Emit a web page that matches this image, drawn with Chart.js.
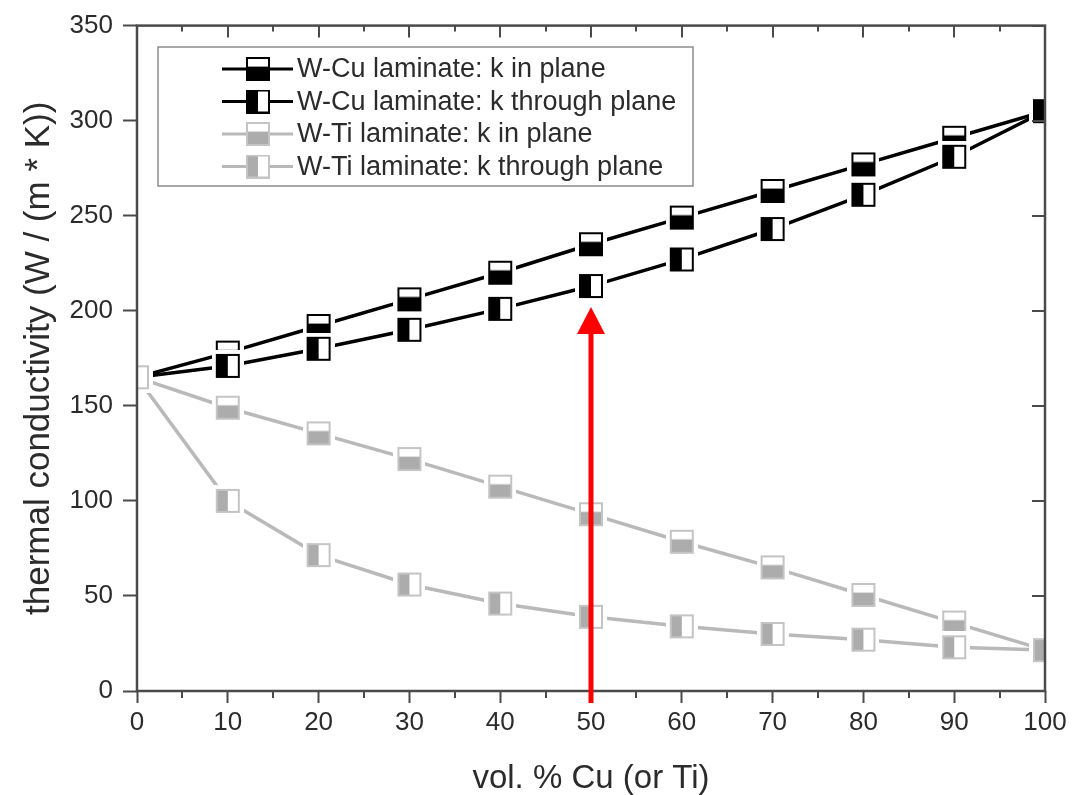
<!DOCTYPE html>
<html>
<head>
<meta charset="utf-8">
<title>Thermal conductivity of W laminates</title>
<script src="https://cdn.jsdelivr.net/npm/chart.js@4.4.0/dist/chart.umd.min.js"></script>
<style>
  html, body { margin: 0; padding: 0; background: #fff; }
  #wrap { width: 1075px; height: 795px; }
</style>
</head>
<body>
<div id="wrap"><canvas id="kchart" width="1075" height="795"></canvas></div>
<script>
// vol. % Cu (or Ti)
const volPercent = [0, 10, 20, 30, 40, 50, 60, 70, 80, 90, 100];

// thermal conductivity, W / (m * K)
const cuInPlane      = [165, 178, 192, 206, 220, 235, 249, 263, 277, 291, 305];
const cuThroughPlane = [165, 171, 180, 190, 201, 213, 227, 243, 261, 281, 305];
const tiInPlane      = [165, 149, 135.5, 122, 107.5, 93, 78.5, 65, 50.5, 36, 21.5];
const tiThroughPlane = [165, 100, 71.5, 56, 46, 39, 34, 30, 27, 23, 21.5];

const seriesLabels = [
  'W-Cu laminate: k in plane',
  'W-Cu laminate: k through plane',
  'W-Ti laminate: k in plane',
  'W-Ti laminate: k through plane'
];

const xTicks = [0, 10, 20, 30, 40, 50, 60, 70, 80, 90, 100];
const yTicks = [0, 50, 100, 150, 200, 250, 300, 350];
const arrowAt = 50;       // red marker arrow position on x
const arrowTip = 202;     // arrow head value on y

const FONT = '"Liberation Sans", Arial, sans-serif';
const BLACK = '#000000';
const GREY = '#b9b9b9';
const GREY_FILL = '#acacac';
const AXIS = '#4a4a4a';

/**
 * Build a square marker (half filled) as a small canvas.
 * pad > 0 adds a white margin so the line stops short of the marker.
 */
function makeMarker(kind, fill, edge, pad) {
  const s = 24;
  const c = document.createElement('canvas');
  c.width = c.height = s + pad * 2;
  const g = c.getContext('2d');
  if (pad) {
    g.fillStyle = '#fff';
    g.fillRect(0, 0, c.width, c.height);
  }
  g.fillStyle = '#fff';
  g.fillRect(pad, pad, s, s);
  g.fillStyle = fill;
  if (kind === 'in') {
    g.fillRect(pad, pad + s * 0.4, s, s * 0.6);
  } else {
    g.fillRect(pad, pad, s / 2, s);
  }
  g.strokeStyle = edge;
  g.lineWidth = 2;
  g.strokeRect(pad + 1, pad + 1, s - 2, s - 2);
  return c;
}

const markers = {
  cuIn: makeMarker('in', BLACK, BLACK, 4),
  cuThr: makeMarker('thr', BLACK, BLACK, 4),
  tiIn: makeMarker('in', GREY_FILL, '#c4c4c4', 4),
  tiThr: makeMarker('thr', GREY_FILL, '#c4c4c4', 4)
};
const legendMarkers = [
  makeMarker('in', BLACK, BLACK, 0),
  makeMarker('thr', BLACK, BLACK, 0),
  makeMarker('in', GREY_FILL, '#c4c4c4', 0),
  makeMarker('thr', GREY_FILL, '#c4c4c4', 0)
];

function toPoints(values) {
  return volPercent.map((x, i) => ({ x: x, y: values[i] }));
}

function series(label, values, color, marker, order) {
  return {
    label: label,
    data: toPoints(values),
    borderColor: color,
    borderWidth: 3.5,
    pointStyle: marker,
    pointRadius: 12,
    pointHoverRadius: 12,
    fill: false,
    tension: 0,
    clip: 0,
    order: order
  };
}

// frame, inner / minor ticks and the red arrow
const framePlugin = {
  id: 'frame',
  afterDatasetsDraw(chart) {
    const { ctx, chartArea: a, scales: { x, y } } = chart;
    ctx.save();
    ctx.strokeStyle = AXIS;
    ctx.lineWidth = 2.5;
    ctx.strokeRect(a.left, a.top, a.right - a.left, a.bottom - a.top);

    ctx.lineWidth = 2;
    ctx.beginPath();
    // top axis: inward major + minor
    for (let v = 0; v <= 100; v += 5) {
      const px = Math.round(x.getPixelForValue(v));
      const len = v % 10 === 0 ? 12 : 6;
      ctx.moveTo(px, a.top);
      ctx.lineTo(px, a.top + len);
      // bottom axis minor ticks (outward)
      if (v % 10 !== 0) {
        ctx.moveTo(px, a.bottom);
        ctx.lineTo(px, a.bottom + 7);
      }
    }
    // right axis: inward major
    yTicks.forEach(v => {
      const py = Math.round(y.getPixelForValue(v));
      ctx.moveTo(a.right, py);
      ctx.lineTo(a.right - 13, py);
    });
    ctx.stroke();

    // red arrow
    const ax = x.getPixelForValue(arrowAt);
    const tip = y.getPixelForValue(arrowTip);
    const base = a.bottom + 12;
    ctx.strokeStyle = '#ff0000';
    ctx.fillStyle = '#ff0000';
    ctx.lineWidth = 5;
    ctx.beginPath();
    ctx.moveTo(ax, base);
    ctx.lineTo(ax, tip + 20);
    ctx.stroke();
    ctx.beginPath();
    ctx.moveTo(ax, tip);
    ctx.lineTo(ax - 14, tip + 27);
    ctx.lineTo(ax + 14, tip + 27);
    ctx.closePath();
    ctx.fill();
    ctx.restore();
  }
};

// legend drawn inside the plot, like the original figure
const boxLegendPlugin = {
  id: 'boxLegend',
  afterDraw(chart) {
    const { ctx } = chart;
    const left = 158, top = 47, right = 693, bottom = 186;
    ctx.save();
    ctx.fillStyle = '#fff';
    ctx.fillRect(left, top, right - left, bottom - top);
    ctx.strokeStyle = '#8c8c8c';
    ctx.lineWidth = 1.5;
    ctx.strokeRect(left, top, right - left, bottom - top);

    chart.data.datasets.forEach((ds, i) => {
      const cy = 69 + i * 32.5;
      ctx.strokeStyle = ds.borderColor;
      ctx.lineWidth = 3;
      ctx.beginPath();
      ctx.moveTo(222, cy);
      ctx.lineTo(293, cy);
      ctx.stroke();
      const m = legendMarkers[i];
      ctx.drawImage(m, 258 - m.width / 2, cy - m.height / 2);
      ctx.fillStyle = '#2b2b2b';
      ctx.font = '27px ' + FONT;
      ctx.textBaseline = 'middle';
      ctx.fillText(ds.label, 297, cy + 1);
    });
    ctx.restore();
  }
};

new Chart(document.getElementById('kchart'), {
  type: 'line',
  data: {
    datasets: [
      series(seriesLabels[0], cuInPlane, BLACK, markers.cuIn, 4),
      series(seriesLabels[1], cuThroughPlane, BLACK, markers.cuThr, 3),
      series(seriesLabels[2], tiInPlane, GREY, markers.tiIn, 2),
      series(seriesLabels[3], tiThroughPlane, GREY, markers.tiThr, 1)
    ]
  },
  options: {
    responsive: false,
    animation: false,
    devicePixelRatio: 1,
    layout: { padding: { top: 21, right: 30, left: 0, bottom: 0 } },
    plugins: {
      legend: { display: false },
      tooltip: { enabled: false }
    },
    scales: {
      x: {
        type: 'linear',
        min: 0,
        max: 100,
        afterBuildTicks: (s) => { s.ticks = xTicks.map(v => ({ value: v })); },
        afterFit: (s) => { s.height = 104; },
        ticks: { color: '#2b2b2b', font: { family: FONT, size: 26 }, padding: 4, maxRotation: 0 },
        grid: { drawOnChartArea: false, drawTicks: true, tickLength: 12, tickColor: AXIS, tickWidth: 2 },
        border: { display: false },
        title: {
          display: true,
          text: 'vol. % Cu (or Ti)',
          color: '#2b2b2b',
          font: { family: FONT, size: 33, lineHeight: 1 },
          padding: { top: 0, bottom: 0 }
        }
      },
      y: {
        min: 0,
        max: 350,
        afterBuildTicks: (s) => { s.ticks = yTicks.map(v => ({ value: v })); },
        afterFit: (s) => { s.width = 137; },
        ticks: { color: '#2b2b2b', font: { family: FONT, size: 26 }, padding: 10 },
        grid: { drawOnChartArea: false, drawTicks: true, tickLength: 14, tickColor: AXIS, tickWidth: 2 },
        border: { display: false },
        title: {
          display: true,
          text: 'thermal conductivity (W / (m * K))',
          color: '#2b2b2b',
          font: { family: FONT, size: 35, lineHeight: 1 },
          padding: { top: 22, bottom: 0 }
        }
      }
    }
  },
  plugins: [framePlugin, boxLegendPlugin]
});
</script>
</body>
</html>
